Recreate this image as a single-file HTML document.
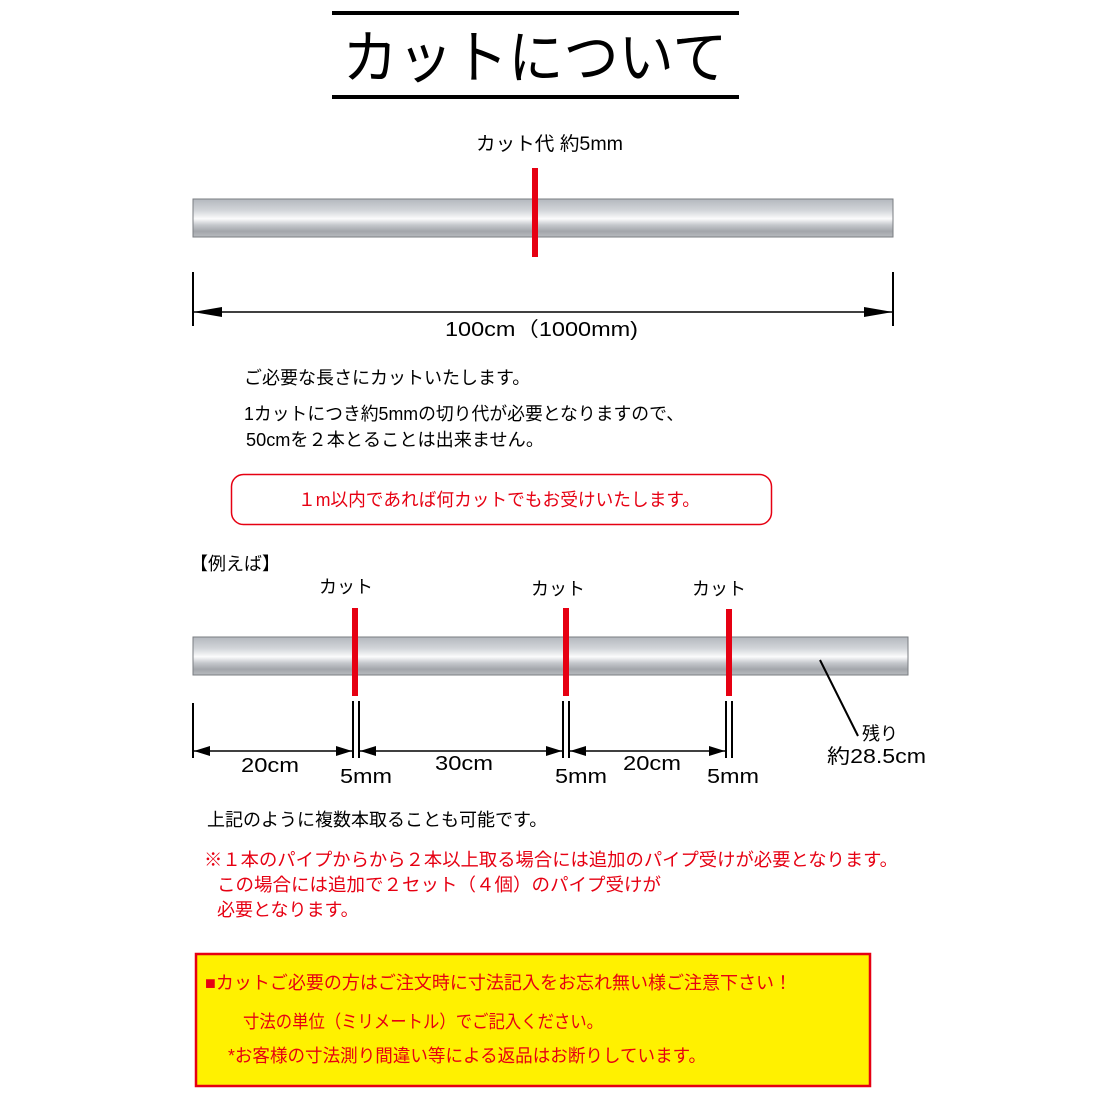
<!DOCTYPE html>
<html><head><meta charset="utf-8"><style>
html,body{margin:0;padding:0;background:#fff}
svg{display:block}
text{font-family:"Liberation Sans","Noto Sans CJK JP",sans-serif}
</style></head><body>
<svg width="1100" height="1100" viewBox="0 0 1100 1100" xmlns="http://www.w3.org/2000/svg">
<defs>
<linearGradient id="pg" x1="0" y1="0" x2="0" y2="1">
<stop offset="0" stop-color="#b4b8be"/>
<stop offset="0.3" stop-color="#d2d5d9"/>
<stop offset="0.52" stop-color="#fbfbfc"/>
<stop offset="0.68" stop-color="#c6c9cd"/>
<stop offset="0.85" stop-color="#a3a6ab"/>
<stop offset="1" stop-color="#b8bbbf"/>
</linearGradient>
</defs>
<rect x="332" y="11" width="407" height="4" fill="#000"/>
<rect x="332" y="95" width="407" height="4" fill="#000"/>
<text x="535" y="78" font-size="58" text-anchor="middle" textLength="385" lengthAdjust="spacingAndGlyphs">カットについて</text>

<text x="476" y="150" font-size="19" textLength="147" lengthAdjust="spacingAndGlyphs">カット代 約5mm</text>
<rect x="193" y="199" width="700" height="38" fill="url(#pg)" stroke="#7a7d82" stroke-width="1"/>
<rect x="532" y="168" width="6" height="89" fill="#e60012"/>
<line x1="193" y1="272" x2="193" y2="326" stroke="#000" stroke-width="2"/>
<line x1="893" y1="272" x2="893" y2="326" stroke="#000" stroke-width="2"/>
<path d="M193,312 L893,312" stroke="#000" stroke-width="1.5"/>
<path d="M193,312 L222,307 L222,317z M893,312 L864,307 L864,317z" fill="#000"/>
<text x="445" y="336" font-size="20" textLength="193" lengthAdjust="spacingAndGlyphs">100cm（1000mm)</text>

<text x="244" y="384" font-size="18">ご必要な長さにカットいたします。</text>
<text x="244" y="420" font-size="18" textLength="440" lengthAdjust="spacingAndGlyphs">1カットにつき約5mmの切り代が必要となりますので、</text>
<text x="246" y="446" font-size="18" textLength="298" lengthAdjust="spacingAndGlyphs">50cmを２本とることは出来ません。</text>
<rect x="231.5" y="474.5" width="540" height="50" rx="12" fill="#fff" stroke="#e60012" stroke-width="1.5"/>
<text x="298" y="506" font-size="18" fill="#e60012" textLength="402" lengthAdjust="spacingAndGlyphs">１m以内であれば何カットでもお受けいたします。</text>

<text x="190" y="570" font-size="18">【例えば】</text>
<text x="346" y="593" font-size="18" text-anchor="middle">カット</text>
<text x="558" y="595" font-size="18" text-anchor="middle">カット</text>
<text x="719" y="595" font-size="18" text-anchor="middle">カット</text>
<rect x="193" y="637" width="715" height="38" fill="url(#pg)" stroke="#7a7d82" stroke-width="1"/>
<rect x="352" y="608" width="6" height="88" fill="#e60012"/>
<rect x="563" y="608" width="6" height="88" fill="#e60012"/>
<rect x="726" y="609" width="6" height="87" fill="#e60012"/>
<line x1="820" y1="660" x2="858" y2="736" stroke="#000" stroke-width="2"/>
<text x="862" y="740" font-size="18">残り</text>
<text x="827" y="763" font-size="20" textLength="99" lengthAdjust="spacingAndGlyphs">約28.5cm</text>
<g stroke="#000" stroke-width="2">
<line x1="193" y1="703" x2="193" y2="758"/>
<line x1="353" y1="701" x2="353" y2="758"/><line x1="359" y1="701" x2="359" y2="758"/>
<line x1="563" y1="701" x2="563" y2="758"/><line x1="569" y1="701" x2="569" y2="758"/>
<line x1="726" y1="701" x2="726" y2="758"/><line x1="732" y1="701" x2="732" y2="758"/>
</g>
<g stroke="#000" stroke-width="1.5">
<line x1="193" y1="751" x2="352" y2="751"/>
<line x1="360" y1="751" x2="562" y2="751"/>
<line x1="570" y1="751" x2="725" y2="751"/>
</g>
<path d="M194,751 L210,746 L210,756z M352,751 L336,746 L336,756z M360,751 L376,746 L376,756z M562,751 L546,746 L546,756z M570,751 L586,746 L586,756z M725,751 L709,746 L709,756z" fill="#000"/>
<text x="270" y="772" font-size="20" text-anchor="middle" textLength="58" lengthAdjust="spacingAndGlyphs">20cm</text>
<text x="464" y="770" font-size="20" text-anchor="middle" textLength="58" lengthAdjust="spacingAndGlyphs">30cm</text>
<text x="652" y="770" font-size="20" text-anchor="middle" textLength="58" lengthAdjust="spacingAndGlyphs">20cm</text>
<text x="366" y="783" font-size="20" text-anchor="middle" textLength="52" lengthAdjust="spacingAndGlyphs">5mm</text>
<text x="581" y="783" font-size="20" text-anchor="middle" textLength="52" lengthAdjust="spacingAndGlyphs">5mm</text>
<text x="733" y="783" font-size="20" text-anchor="middle" textLength="52" lengthAdjust="spacingAndGlyphs">5mm</text>

<text x="207" y="826" font-size="18">上記のように複数本取ることも可能です。</text>
<g fill="#e60012" font-size="18">
<text x="204" y="866" textLength="694" lengthAdjust="spacingAndGlyphs">※１本のパイプからから２本以上取る場合には追加のパイプ受けが必要となります。</text>
<text x="217" y="891" textLength="444" lengthAdjust="spacingAndGlyphs">この場合には追加で２セット（４個）のパイプ受けが</text>
<text x="217" y="916">必要となります。</text>
</g>
<rect x="196" y="954" width="674" height="132" fill="#fff100" stroke="#e60012" stroke-width="2.5"/>
<g fill="#e60012" font-size="18">
<text x="205" y="989" textLength="587" lengthAdjust="spacingAndGlyphs">■カットご必要の方はご注文時に寸法記入をお忘れ無い様ご注意下さい！</text>
<text x="243" y="1028" textLength="360" lengthAdjust="spacingAndGlyphs">寸法の単位（ミリメートル）でご記入ください。</text>
<text x="228" y="1062" textLength="478" lengthAdjust="spacingAndGlyphs">*お客様の寸法測り間違い等による返品はお断りしています。</text>
</g>
</svg>
</body></html>
